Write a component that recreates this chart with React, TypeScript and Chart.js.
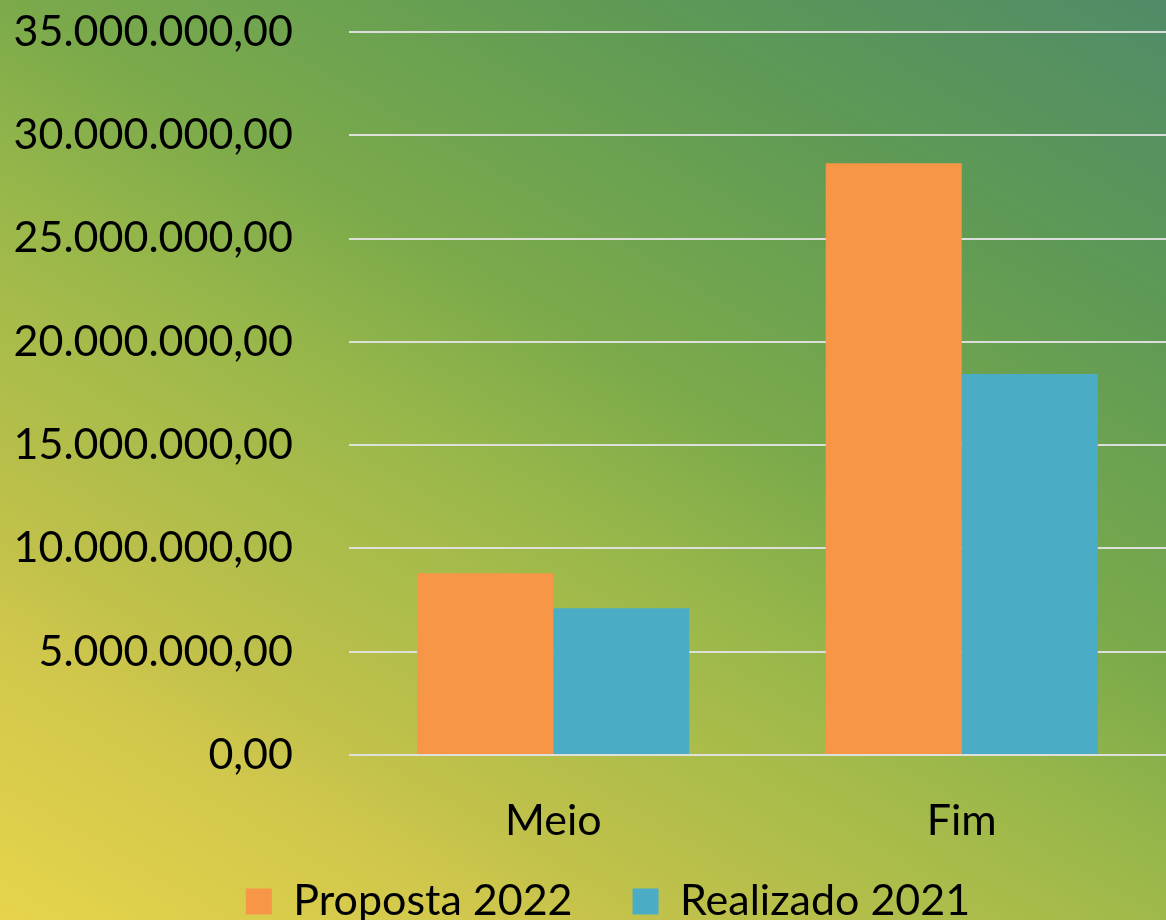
import React, { useEffect, useRef } from "react";
import { Chart, registerables } from "chart.js";

Chart.register(...registerables);

const categories = ["Meio", "Fim"];
const proposta2022 = [8800000, 28650000];
const realizado2021 = [7100000, 18450000];
const seriesNames = ["Proposta 2022", "Realizado 2021"];
const yTickValues = [0, 5000000, 10000000, 15000000, 20000000, 25000000, 30000000, 35000000];

const FONT = "Lato";

function formatBR(v: number): string {
  const int = Math.round(v).toString();
  const withDots = int.replace(/\B(?=(\d{3})+(?!\d))/g, ".");
  return withDots + ",00";
}

const legendPlacer = {
  id: "legendPlacer",
  afterLayout(chart: any) {
    const lg = chart.legend;
    if (!lg) return;
    lg.top = 820;
    lg.bottom = 920;
    lg.height = 100;
    lg.left += 25;
    lg.right += 25;
  },
};

export default function App() {
  const ref = useRef<HTMLCanvasElement | null>(null);

  useEffect(() => {
    if (!ref.current) return;
    const chart = new Chart(ref.current, {
      type: "bar",
      data: {
        labels: categories,
        datasets: [
          {
            label: seriesNames[0],
            data: proposta2022,
            backgroundColor: "#F79646",
            borderWidth: 0,
            categoryPercentage: 0.666,
            barPercentage: 1.0,
          },
          {
            label: seriesNames[1],
            data: realizado2021,
            backgroundColor: "#4BACC6",
            borderWidth: 0,
            categoryPercentage: 0.666,
            barPercentage: 1.0,
          },
        ],
      },
      plugins: [legendPlacer],
      options: {
        responsive: false,
        animation: false,
        layout: { padding: { top: 32, right: 0, left: 0, bottom: 0 } },
        scales: {
          x: {
            grid: { display: false, drawTicks: false },
            border: { display: false },
            ticks: {
              color: "#000",
              font: { family: FONT, size: 43 },
              padding: 40,
            },
            afterFit: (scale: any) => {
              scale.height = 90;
            },
          },
          y: {
            min: 0,
            max: 35000000,
            afterBuildTicks: (scale: any) => {
              scale.ticks = yTickValues.map((v) => ({ value: v }));
            },
            grid: {
              color: "rgba(225,225,225,0.95)",
              lineWidth: 2,
              drawTicks: false,
            },
            border: { display: false },
            ticks: {
              color: "#000",
              font: { family: FONT, size: 43 },
              padding: 56,
              callback: (v: any) => formatBR(Number(v)),
            },
            afterFit: (scale: any) => {
              scale.width = 349;
              scale.paddingTop = 0;
              scale.paddingBottom = 0;
            },
          },
        },
        plugins: {
          legend: {
            position: "bottom",
            maxHeight: 75,
            labels: {
              color: "#000",
              font: { family: FONT, size: 43 },
              boxWidth: 26,
              boxHeight: 26,
              padding: 60,
            },
          },
          tooltip: { enabled: false },
        },
      },
    });
    return () => chart.destroy();
  }, []);

  return (
    <div
      style={{
        position: "absolute",
        left: 0,
        top: 0,
        width: 1166,
        height: 920,
        background:
          "linear-gradient(30deg, #E6D44B 0%, #CEC64C 19%, #C3C24A 23%, #9AB84A 45%, #7BAA4B 58%, #5E9A55 80%, #518B68 100%)",
      }}
    >
      <canvas ref={ref} width={1166} height={920} style={{ display: "block" }} />
    </div>
  );
}
